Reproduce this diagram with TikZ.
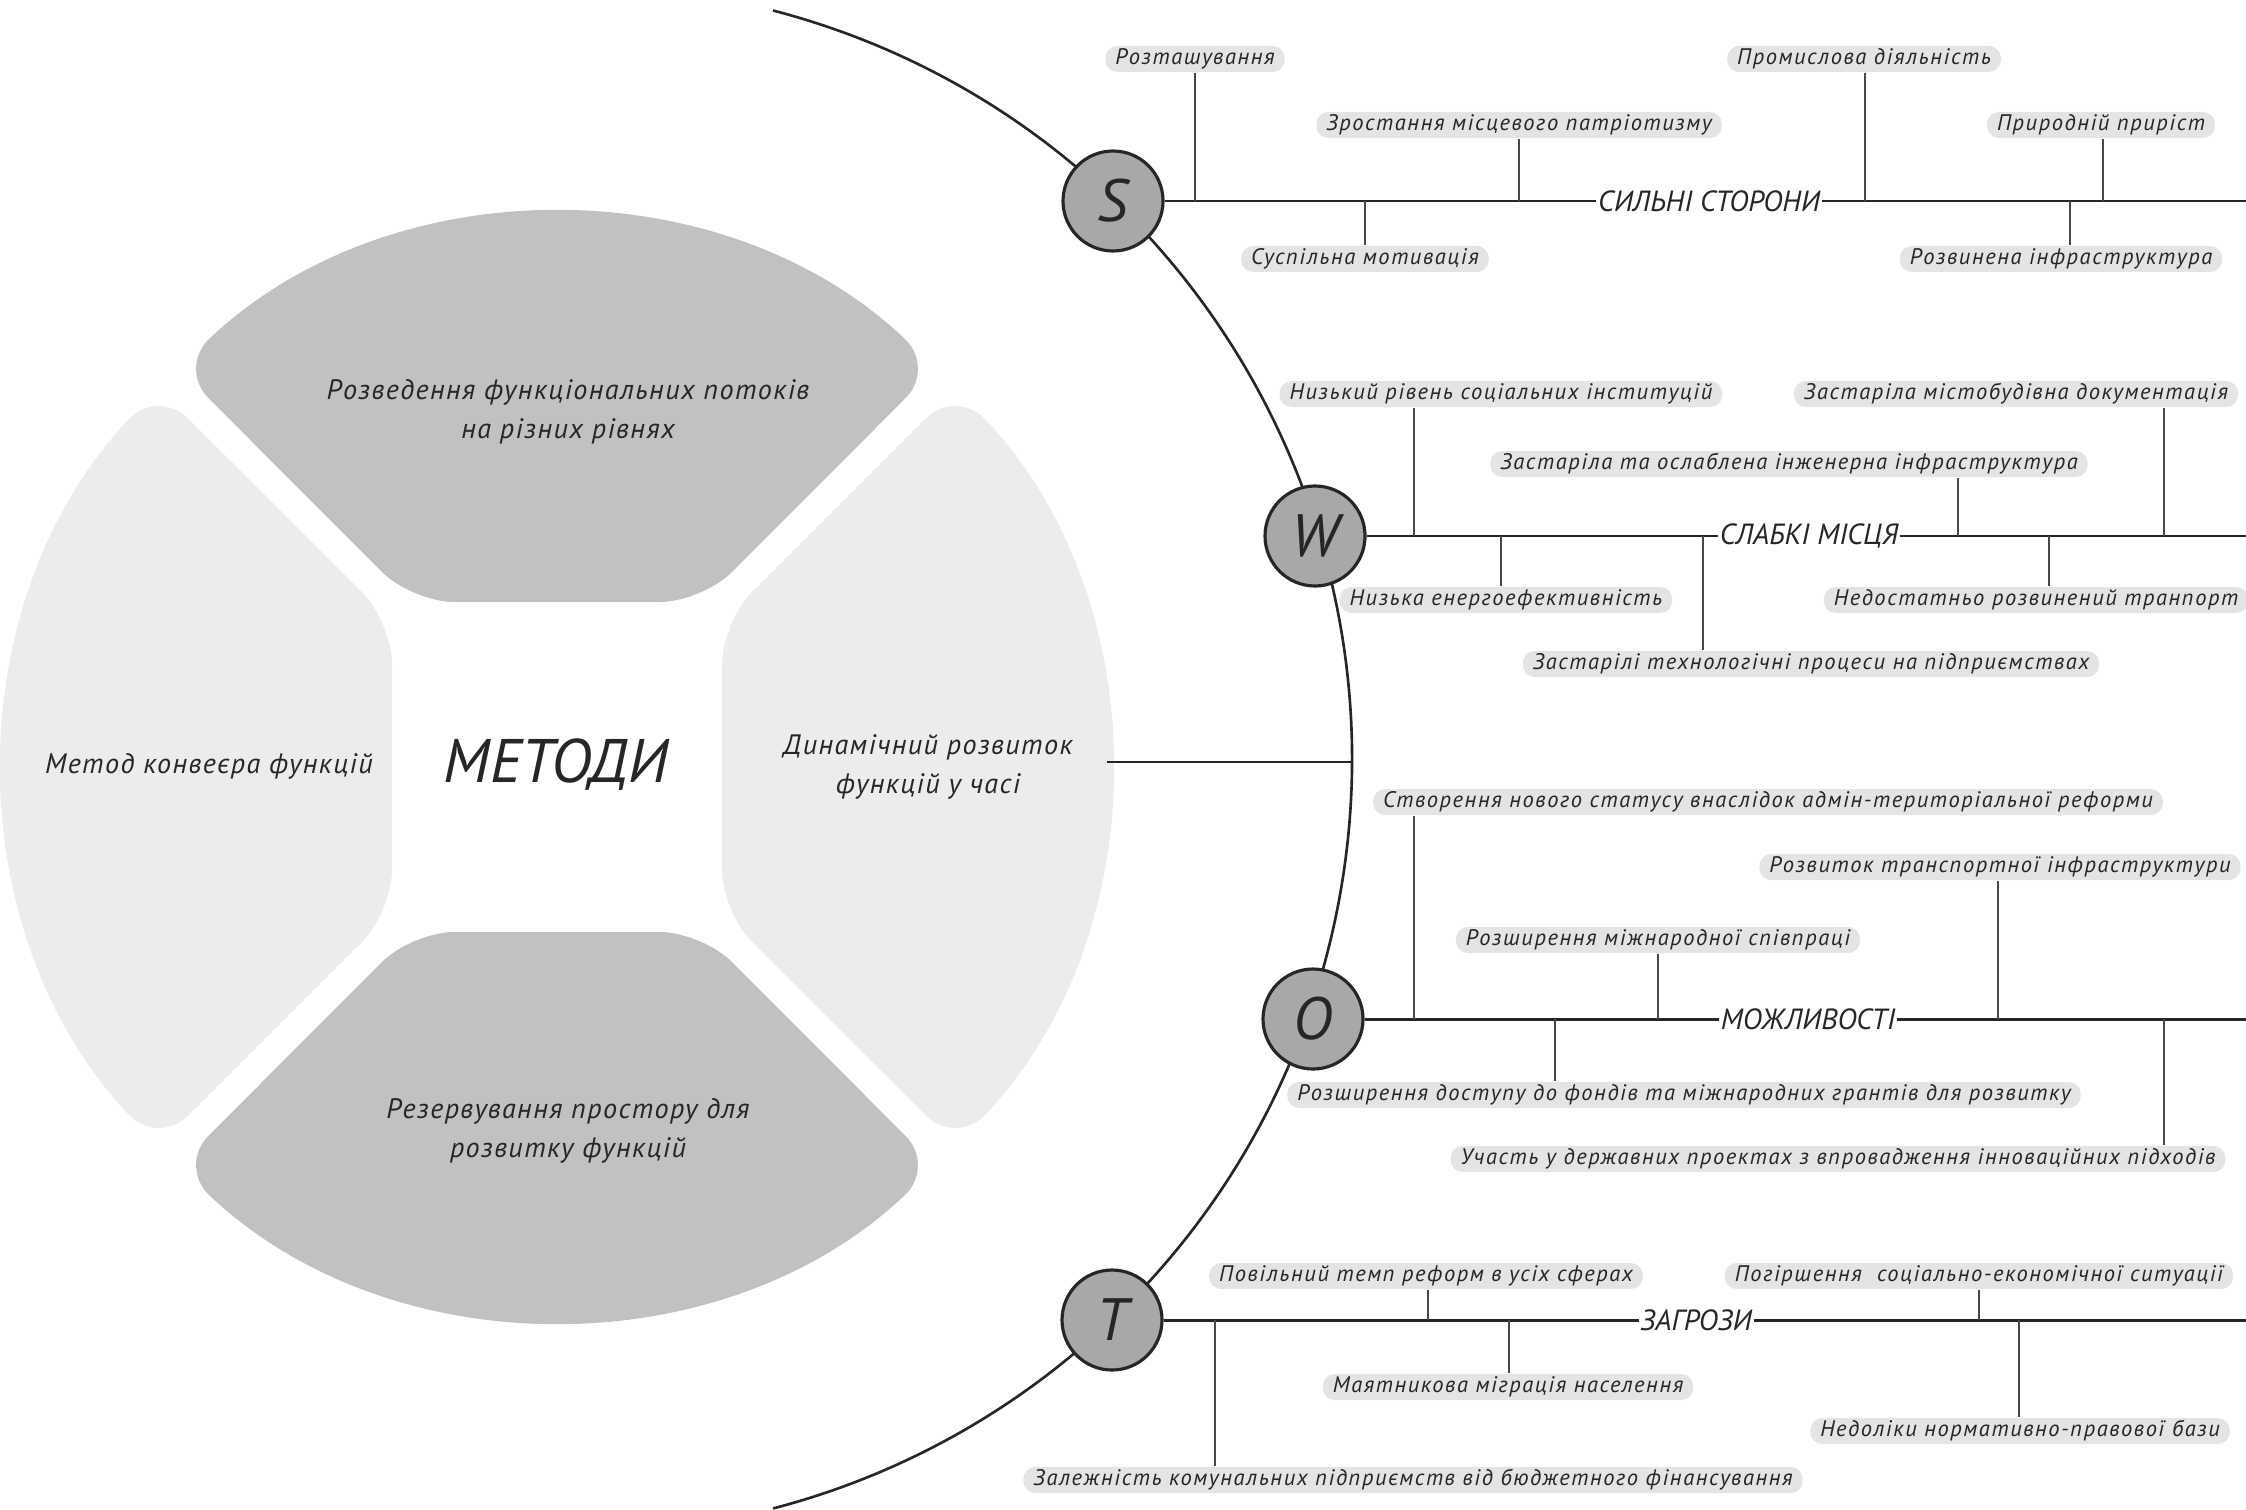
\documentclass[tikz,border=0pt]{standalone}
\usepackage{fontspec}
\setmainfont{PT Sans}
\newfontfamily\lblfam{PT Sans}[LetterSpace=7]
\newfontfamily\segfam{PT Sans}[LetterSpace=5]
\usetikzlibrary{positioning}
\definecolor{segdark}{RGB}{193,193,193}
\definecolor{seglight}{RGB}{234,236,237}
\definecolor{boxgray}{RGB}{228,228,228}
\definecolor{circgray}{RGB}{168,168,170}
\definecolor{ink}{RGB}{38,38,38}

\begin{document}
\begin{tikzpicture}[
  lbl/.style={fill=boxgray, rounded corners=0.12cm, inner xsep=0.1cm, inner ysep=0pt, minimum height=0.26cm, text=ink, font=\lblfam\itshape\fontsize{6.4}{7.5}\selectfont},
  swot/.style={circle, draw=ink, fill=circgray, line width=0.9pt, minimum size=1cm, inner sep=0pt, text=ink, font=\itshape\fontsize{17}{20}\selectfont},
  spine/.style={draw=ink, line width=0.85pt},
  branch/.style={draw=ink!85, line width=0.45pt},
  spinecap/.style={fill=white, inner sep=0.5pt, text=ink, font=\itshape\fontsize{8.3}{10}\selectfont},
  segtext/.style={align=center, text=ink, font=\segfam\itshape\fontsize{8.0}{11.1}\selectfont}
]
\useasboundingbox (0,0) rectangle (22.46,-15.10);

% wheel
\begin{scope}[shift={(5.57,-7.67)}]
\foreach \a/\col in {0/segdark,90/seglight,180/segdark,270/seglight}
  \fill[\col, rotate=\a, rounded corners=12pt] (-1.45,1.65) -- (133.5:5.5) arc[start angle=133.5, end angle=46.5, radius=5.5] -- (1.45,1.65) -- cycle;
\end{scope}

\node[segtext] (mtop) at (5.68,-4.115) {Розведення функціональних потоків\\на різних рівнях};
\node[segtext] (mleft) at (2.09,-7.66) {Метод конвеєра функцій};
\node[segtext] (mright) at (9.28,-7.665) {Динамічний розвиток\\функцій у часі};
\node[segtext] (mbot) at (5.68,-11.305) {Резервування простору для\\розвитку функцій};
\node[text=ink, font=\itshape\fontsize{17.5}{20}\selectfont] (methods) at (5.56,-7.65) {МЕТОДИ};

% arc
\coordinate (arctop) at (7.73,-0.105);
\draw[ink, line width=0.75pt] (arctop) arc[start angle=75.4, end angle=-75.4, radius=7.74];
\coordinate (wheelE) at (11.07,-7.62);
\coordinate (arcE) at (13.52,-7.62);
\draw[ink, line width=0.6pt] (wheelE) -- (arcE);

% S W O T
\node[swot] (S) at (11.13,-2.01) {S};
\node[swot] (W) at (13.15,-5.36) {W};
\node[swot] (O) at (13.13,-10.19) {O};
\node[swot] (T) at (11.12,-13.20) {T};

\coordinate (edge) at (22.46,0);
\foreach \k in {S,W,O,T}{
  \coordinate (\k end) at (\k -| edge);
  \draw[spine] (\k) -- (\k end);
}

\node[spinecap] (Scap) at (17.09,-2.01) {СИЛЬНІ СТОРОНИ};
\node[spinecap] (Wcap) at (18.09,-5.36) {СЛАБКІ МІСЦЯ};
\node[spinecap] (Ocap) at (18.08,-10.19) {МОЖЛИВОСТІ};
\node[spinecap] (Tcap) at (16.96,-13.20) {ЗАГРОЗИ};

% S
\foreach \nm/\x/\y/\bx/\an/\txt in {
  s1/11.95/-0.59/11.95/south/Розташування,
  s2/15.19/-1.25/15.19/south/Зростання місцевого патріотизму,
  s3/13.65/-2.59/13.65/north/Суспільна мотивація,
  s4/18.64/-0.59/18.65/south/Промислова діяльність,
  s5/21.01/-1.25/21.03/south/Природній приріст,
  s6/20.61/-2.59/20.70/north/Розвинена інфраструктура}
{
  \node[lbl] (\nm) at (\x,\y) {\txt};
  \coordinate (b\nm) at (\bx,-2.01);
  \draw[branch] (b\nm) -- (b\nm |- \nm.\an);
}

% W
\foreach \nm/\x/\y/\bx/\an/\txt in {
  w1/15.01/-3.94/14.14/south/Низький рівень соціальних інституцій,
  w2/20.16/-3.94/21.64/south/Застаріла містобудівна документація,
  w3/17.89/-4.64/19.58/south/Застаріла та ослаблена інженерна інфраструктура,
  w4/15.06/-6.00/15.01/north/Низька енергоефективність,
  w5/20.36/-6.00/20.49/north/Недостатньо розвинений транпорт,
  w6/18.11/-6.64/17.03/north/Застарілі технологічні процеси на підприємствах}
{
  \node[lbl] (\nm) at (\x,\y) {\txt};
  \coordinate (b\nm) at (\bx,-5.36);
  \draw[branch] (b\nm) -- (b\nm |- \nm.\an);
}

% O
\foreach \nm/\x/\y/\bx/\an/\txt in {
  o1/17.68/-8.02/14.14/south/Створення нового статусу внаслідок адмін-територіальної реформи,
  o2/20.00/-8.67/19.98/south/Розвиток транспортної інфраструктури,
  o3/16.58/-9.40/16.58/south/Розширення міжнародної співпраці,
  o4/16.84/-10.95/15.55/north/Розширення доступу до фондів та міжнародних грантів для розвитку,
  o5/18.38/-11.59/21.64/north/Участь у державних проектах з впровадження інноваційних підходів}
{
  \node[lbl] (\nm) at (\x,\y) {\txt};
  \coordinate (b\nm) at (\bx,-10.19);
  \draw[branch] (b\nm) -- (b\nm |- \nm.\an);
}

% T
\foreach \nm/\x/\y/\bx/\an/\txt in {
  t1/14.26/-12.76/14.28/south/Повільний темп реформ в усіх сферах,
  t2/19.79/-12.76/19.79/south/Погіршення~ соціально-економічної ситуації,
  t3/15.08/-13.87/15.09/north/Маятникова міграція населення,
  t4/20.20/-14.31/20.19/north/Недоліки нормативно-правової бази,
  t5/14.13/-14.80/12.15/north/Залежність комунальних підприємств від бюджетного фінансування}
{
  \node[lbl] (\nm) at (\x,\y) {\txt};
  \coordinate (b\nm) at (\bx,-13.20);
  \draw[branch] (b\nm) -- (b\nm |- \nm.\an);
}

\end{tikzpicture}
\end{document}
